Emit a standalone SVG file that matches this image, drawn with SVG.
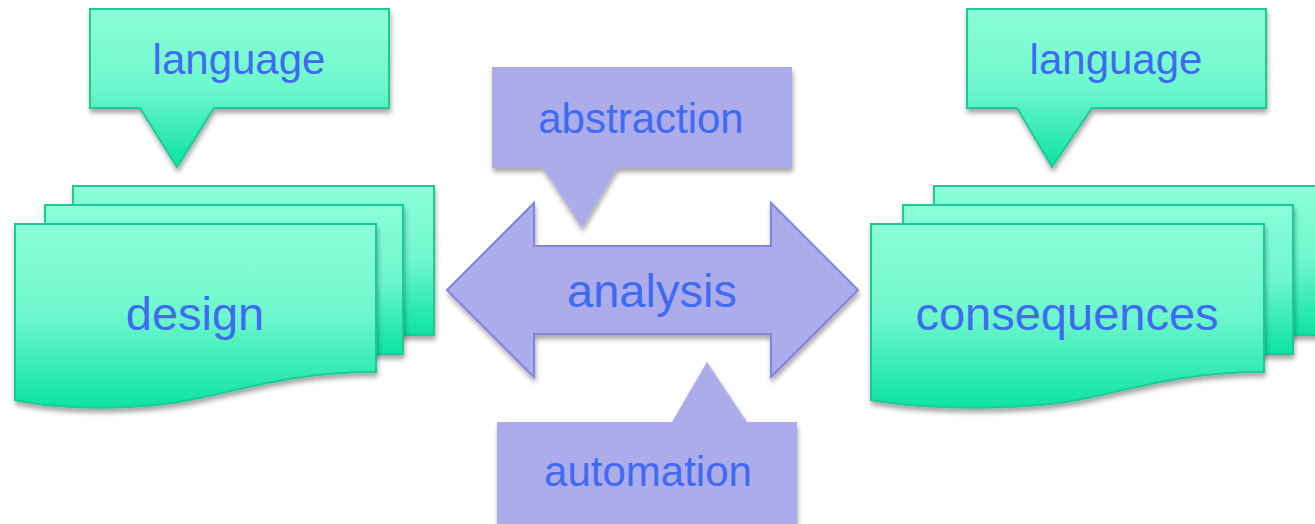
<svg xmlns="http://www.w3.org/2000/svg" width="1315" height="524" viewBox="0 0 1315 524">
<defs>
<linearGradient id="gr" x1="0" y1="0" x2="0" y2="1">
<stop offset="0" stop-color="#8bffd9"/>
<stop offset="0.5" stop-color="#6ef7cc"/>
<stop offset="1" stop-color="#0de3a0"/>
</linearGradient>
<filter id="sh" x="-10%" y="-10%" width="130%" height="130%">
<feGaussianBlur in="SourceAlpha" stdDeviation="2.5"/>
<feOffset dx="1" dy="4" result="b"/>
<feComponentTransfer><feFuncA type="linear" slope="0.35"/></feComponentTransfer>
<feMerge><feMergeNode/><feMergeNode in="SourceGraphic"/></feMerge>
</filter>
</defs>
<style>
.g{fill:url(#gr);stroke:#1fca98;stroke-width:2;filter:url(#sh)}
.p{fill:#acacea;stroke:none;filter:url(#sh)}
.ps{fill:#acacea;stroke:#8283e2;stroke-width:2;filter:url(#sh)}
text{font-family:"Liberation Sans",Arial,sans-serif;fill:#3f6af4;text-anchor:middle}
.s{font-size:42px}
.l{font-size:47px}
</style>
<rect width="1315" height="524" fill="#ffffff"/>
<g id="design-stack">
<rect class="g" x="73" y="186" width="361" height="149"/>
<rect class="g" x="45" y="205" width="358" height="149"/>
<path class="g" d="M15,224 H376 V372 C300,372 260,385 200,398 C140,411 60,410 15,400 Z"/>
<text class="l" x="195" y="330">design</text>
</g>
<g id="language-left">
<path class="g" d="M90,9 H389 V108 H214 L177,167 L140,108 H90 Z"/>
<text class="s" x="239" y="74">language</text>
</g>
<g id="consequences-stack">
<rect class="g" x="934" y="186" width="400" height="149"/>
<rect class="g" x="903" y="205" width="390" height="149"/>
<path class="g" d="M871,224 H1264 V372 C1188,372 1148,385 1088,398 C1028,411 928,410 871,400 Z"/>
<text class="l" x="1067" y="330">consequences</text>
</g>
<g id="language-right">
<path class="g" d="M967,9 H1266 V108 H1092 L1052,167 L1017,108 H967 Z"/>
<text class="s" x="1116" y="74">language</text>
</g>
<g id="connectors">
<path class="ps" d="M447,290 L534,203 V246 H771 V203 L858,290 L771,377 V334 H534 V377 Z"/>
</g>
<g id="analysis">
<text class="l" x="652" y="307">analysis</text>
</g>
<g id="abstraction">
<path class="p" d="M492,67 H792 V168 H617 L582,228 L543,168 H492 Z"/>
<text class="s" x="641" y="133">abstraction</text>
</g>
<g id="automation">
<path class="p" d="M497,422 H672 L707,362 L747,422 H797 V530 H497 Z"/>
<text class="s" x="648" y="486">automation</text>
</g>
</svg>
